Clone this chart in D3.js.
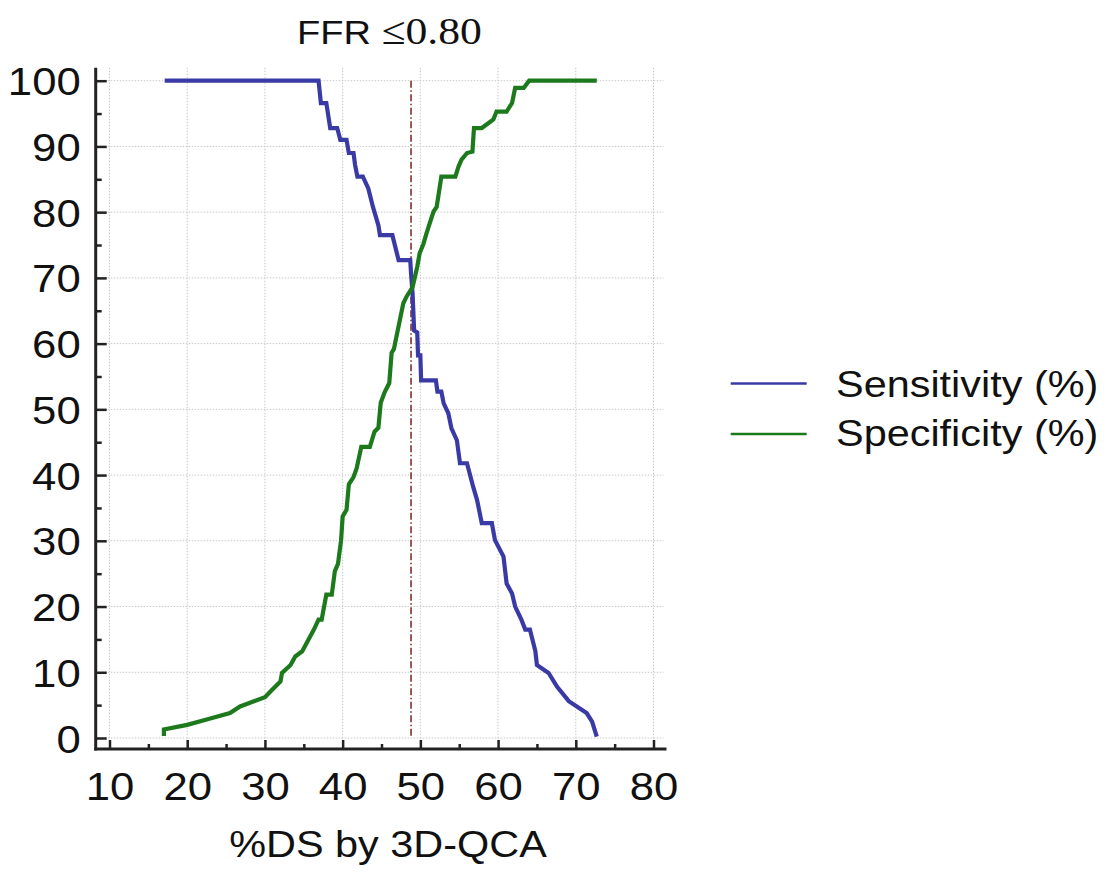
<!DOCTYPE html>
<html>
<head>
<meta charset="utf-8">
<script src="https://cdn.jsdelivr.net/npm/d3@7/dist/d3.min.js"></script>
<style>
  html, body { margin: 0; padding: 0; background: #fff; }
  svg { display: block; }
</style>
</head>
<body>
<svg id="chart" width="1113" height="872"></svg>
<script>
// ---------------- data ----------------
const titleMain = "FFR ";
const titleCut = "≤0.80";
const xAxisTitle = "%DS by 3D-QCA";
const seriesNames = ["Sensitivity (%)", "Specificity (%)"];
const xTicks = [10, 20, 30, 40, 50, 60, 70, 80];
const xMinorTicks = [15, 25, 35, 45, 55, 65, 75];
const yTicks = [0, 10, 20, 30, 40, 50, 60, 70, 80, 90, 100];
const yMinorTicks = [5, 15, 25, 35, 45, 55, 65, 75, 85, 95];
const cutoff = 48.8;

const sensX = [17.1, 36.9, 37.2, 37.9, 38.4, 39.3, 39.7, 40.5, 40.8, 41.4, 41.6, 41.9, 42.6, 43.3, 43.9, 44.6, 44.8, 46.4, 47.2, 48.7, 48.8, 49.0, 49.2, 49.6, 49.7, 50.0, 50.1, 52.0, 52.2, 52.7, 53.0, 53.6, 54.0, 54.7, 55.1, 56.0, 56.8, 57.3, 57.9, 59.2, 59.6, 60.7, 61.1, 61.8, 62.2, 63.0, 63.5, 64.1, 64.8, 65.0, 66.5, 67.6, 69.1, 71.4, 72.1, 72.7];
const sensY = [100, 100, 96.6, 96.6, 92.8, 92.8, 91.0, 91.0, 89.0, 89.0, 87.2, 85.4, 85.4, 83.6, 80.8, 78.0, 76.5, 76.5, 72.7, 72.7, 70.7, 67.6, 62.0, 61.7, 58.2, 58.2, 54.4, 54.4, 52.7, 52.7, 50.9, 49.4, 47.1, 45.3, 41.8, 41.8, 38.2, 36.2, 32.7, 32.7, 30.1, 27.6, 23.5, 22.0, 20.0, 18.0, 16.5, 16.5, 13.2, 11.1, 9.9, 7.8, 5.6, 3.8, 2.5, 0.2];

const specX = [17.0, 17.0, 20.0, 22.5, 25.5, 26.8, 30.0, 30.9, 32.0, 32.2, 33.3, 33.9, 34.8, 35.8, 36.3, 36.9, 37.3, 37.9, 38.6, 39.0, 39.4, 39.8, 40.0, 40.5, 40.8, 41.4, 41.8, 42.4, 43.5, 44.1, 44.6, 44.9, 45.4, 46.0, 46.3, 46.6, 47.0, 47.4, 47.8, 48.2, 49.0, 49.6, 49.9, 50.4, 50.8, 51.2, 51.7, 52.1, 52.7, 54.5, 54.9, 55.3, 56.0, 56.7, 56.9, 57.9, 59.4, 59.8, 61.1, 61.8, 62.2, 63.3, 64.0, 72.7];
const specY = [0.3, 1.3, 2.0, 2.8, 3.8, 4.8, 6.2, 7.3, 8.6, 9.9, 11.1, 12.4, 13.2, 15.4, 16.5, 18.0, 18.0, 21.8, 21.8, 25.4, 26.5, 30.1, 33.7, 34.7, 38.6, 39.7, 41.0, 44.3, 44.3, 46.6, 47.2, 51.0, 52.6, 54.0, 58.6, 59.2, 61.5, 63.8, 66.1, 67.1, 68.6, 71.7, 73.7, 75.2, 76.8, 78.3, 80.1, 80.8, 85.4, 85.4, 86.9, 88.0, 89.0, 89.2, 92.8, 92.8, 94.1, 95.3, 95.3, 96.6, 98.9, 98.9, 100, 100];

// ---------------- layout ----------------
const colors = ["#3a3aa6", "#1c7a1c"];
const SX = 1.12;              // slight horizontal stretch of the original's text
const FONT = "'Liberation Sans', Arial, sans-serif";
const SERIF = "'Liberation Serif', 'Times New Roman', serif";

const svg = d3.select("#chart");
const x = d3.scaleLinear().domain([10, 80]).range([109.5, 653.5]);
const y = d3.scaleLinear().domain([0, 100]).range([738, 80.7]);

const axisLeftX = 95.7, axisBottomY = 749;
const plotRight = 666.5, plotTop = 67.7;

// gridlines
const grid = svg.append("g").attr("stroke", "#c8c8c8").attr("stroke-width", 1).attr("stroke-dasharray", "1.5,1.5");
grid.selectAll("line.v").data(xTicks).join("line")
  .attr("x1", d => x(d)).attr("x2", d => x(d))
  .attr("y1", plotTop).attr("y2", axisBottomY);
grid.selectAll("line.h").data(yTicks).join("line")
  .attr("x1", axisLeftX).attr("x2", plotRight - 3)
  .attr("y1", d => y(d)).attr("y2", d => y(d));

// cutoff dash-dot line
svg.append("line")
  .attr("x1", x(cutoff)).attr("x2", x(cutoff))
  .attr("y1", y(100)).attr("y2", y(0))
  .attr("stroke", "#7a2222").attr("stroke-width", 1.5)
  .attr("stroke-dasharray", "7,2.5,1.5,2.5");

// series lines
const line = d3.line().x(d => x(d[0])).y(d => y(d[1]));
const sensPts = sensX.map((v, i) => [v, sensY[i]]);
const specPts = specX.map((v, i) => [v, specY[i]]);
[sensPts, specPts].forEach((pts, i) => {
  svg.append("path").datum(pts)
    .attr("d", line)
    .attr("fill", "none")
    .attr("stroke", colors[i])
    .attr("stroke-width", 4.2)
    .attr("stroke-linejoin", "miter")
    .attr("stroke-linecap", "butt");
});

// axes
const axisColor = "#222";
svg.append("g").attr("transform", `translate(0,${axisBottomY})`)
  .call(d3.axisBottom(x).tickValues(xMinorTicks).tickSize(-5).tickFormat(""))
  .call(g => g.select(".domain").remove())
  .call(g => g.selectAll("line").attr("stroke", axisColor).attr("stroke-width", 2.5));
svg.append("g").attr("transform", `translate(${axisLeftX},0)`)
  .call(d3.axisLeft(y).tickValues(yMinorTicks).tickSize(-6).tickFormat(""))
  .call(g => g.select(".domain").remove())
  .call(g => g.selectAll("line").attr("stroke", axisColor).attr("stroke-width", 2.5));

const xAx = svg.append("g").attr("transform", `translate(0,${axisBottomY})`)
  .call(d3.axisBottom(x).tickValues(xTicks).tickSize(-9).tickFormat(d3.format("d")))
  .call(g => g.select(".domain").remove())
  .call(g => g.selectAll("line").attr("stroke", axisColor).attr("stroke-width", 2.5));
xAx.selectAll("text")
  .attr("y", 51).attr("dy", null).attr("x", 0)
  .attr("transform", `scale(${SX},1)`)
  .attr("fill", "#111").style("font-family", FONT).style("font-size", "39px");

const yAx = svg.append("g").attr("transform", `translate(${axisLeftX},0)`)
  .call(d3.axisLeft(y).tickValues(yTicks).tickSize(-11).tickFormat(d3.format("d")))
  .call(g => g.select(".domain").remove())
  .call(g => g.selectAll("line").attr("stroke", axisColor).attr("stroke-width", 2.5));
yAx.selectAll("text")
  .attr("x", -15 / SX).attr("dy", "0.36em")
  .attr("transform", `scale(${SX},1)`)
  .attr("fill", "#111").style("font-family", FONT).style("font-size", "39px");

// axis lines
svg.append("line").attr("x1", axisLeftX).attr("x2", axisLeftX)
  .attr("y1", plotTop).attr("y2", axisBottomY + 1.5)
  .attr("stroke", axisColor).attr("stroke-width", 3);
svg.append("line").attr("x1", axisLeftX - 1.5).attr("x2", plotRight)
  .attr("y1", axisBottomY).attr("y2", axisBottomY)
  .attr("stroke", axisColor).attr("stroke-width", 3);

// title
const t = svg.append("g").attr("transform", `translate(297,44) scale(${SX},1)`)
  .append("text").attr("fill", "#111");
t.append("tspan").text(titleMain).style("font-family", FONT).style("font-size", "34px");
t.append("tspan").text(titleCut).style("font-family", SERIF).style("font-size", "39px");

// x axis title
svg.append("g").attr("transform", `translate(388,857) scale(${SX},1)`)
  .append("text").attr("text-anchor", "middle").attr("fill", "#111")
  .style("font-family", FONT).style("font-size", "37px")
  .text(xAxisTitle);

// legend
const legYLine = [383.5, 434];
const legYText = [397, 446];
seriesNames.forEach((name, i) => {
  svg.append("line").attr("x1", 730.7).attr("x2", 806.7)
    .attr("y1", legYLine[i]).attr("y2", legYLine[i])
    .attr("stroke", colors[i]).attr("stroke-width", 2.5);
  svg.append("g").attr("transform", `translate(836,${legYText[i]}) scale(${SX},1)`)
    .append("text").attr("fill", "#111")
    .style("font-family", FONT).style("font-size", "37px")
    .text(name);
});
</script>
</body>
</html>
